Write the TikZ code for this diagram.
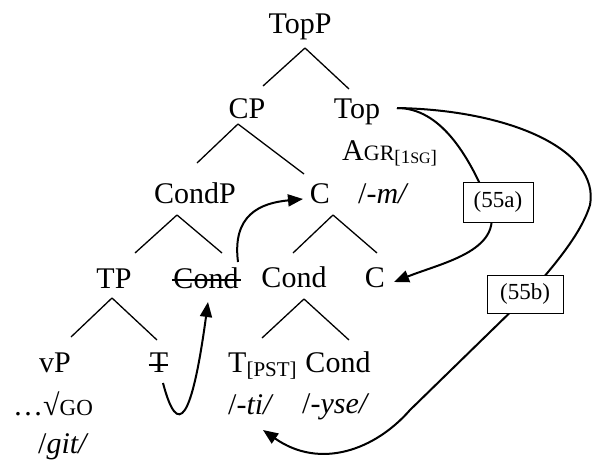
\documentclass[tikz,border=0pt]{standalone}
\usepackage{fontspec}
\setmainfont{Liberation Serif}
\usetikzlibrary{arrows.meta,calc}
\begin{document}
\begin{tikzpicture}[x=1pt,y=-1pt,
  lab/.style={inner sep=0pt, anchor=base, font=\fontsize{30}{30}\selectfont},
  branch/.style={line width=1.3pt},
  mv/.style={line width=2pt,-{Triangle[length=15pt,width=12pt]}},
  strike/.style={line width=1.5pt},
  tag/.style={draw, line width=0.9pt, fill=white, inner sep=0pt, font=\fontsize{23}{23}\selectfont}]
\path[use as bounding box] (0,0) rectangle (595,461);

% nodes
\node[lab] (TopP) at (300,33) {TopP};
\node[lab] (CP) at (247,118) {CP};
\node[lab] (Top) at (357,118) {Top};
\node[lab,anchor=base west] (Agr) at (342,160) {A{\fontsize{22}{22}\selectfont GR}\raisebox{-3pt}{\fontsize{19}{19}\selectfont[1{\fontsize{16}{16}\selectfont SG}]}};
\node[lab] (CondP) at (195,203) {CondP};
\node[lab] (C1) at (320,203) {C};
\node[lab,anchor=base west] (m) at (358,203) {/\textit{-m/}};
\node[lab] (TP) at (114,288) {TP};
\node[lab] (Condx) at (206,288) {Cond};
\node[lab] (Cond2) at (294,287) {Cond};
\node[lab] (C2) at (375,287) {C};
\node[lab] (vP) at (55,372) {vP};
\node[lab] (Tx) at (159,372) {T};
\node[lab,anchor=base west] (Tpst) at (228,372) {T\raisebox{-4pt}{\fontsize{21}{21}\selectfont[PST]}};
\node[lab] (Cond3) at (338,372) {Cond};
\node[lab,anchor=base west] (go) at (13,415) {…√{\fontsize{23}{23}\selectfont GO}};
\node[lab,anchor=base west] (ti) at (228,414) {/\textit{-ti/}};
\node[lab,anchor=base west] (yse) at (302,413) {/\textit{-yse/}};
\node[lab,anchor=base west] (git) at (38,453) {/\textit{git/}};

% strike-throughs
\draw[strike] ($(Condx.base west)+(-1,-8)$) -- ($(Condx.base east)+(2,-8)$);
\draw[strike] ($(Tx.base west)+(-1,-7)$) -- ($(Tx.base east)+(0,-7)$);

% branches
\draw[branch] ($(TopP.base)+(5,15)$) -- ($(CP.base)+(16,-32)$);
\draw[branch] ($(TopP.base)+(5,15)$) -- ($(Top.base)+(-8,-29)$);
\draw[branch] ($(CP.base)+(-9,6)$) -- ($(CondP.base)+(2,-40)$);
\draw[branch] ($(CP.base)+(-9,6)$) -- ($(C1.base)+(-16,-29)$);
\draw[branch] ($(CondP.base)+(-18,12)$) -- ($(TP.base)+(21,-35)$);
\draw[branch] ($(CondP.base)+(-18,12)$) -- ($(Condx.base)+(16,-35)$);
\draw[branch] ($(C1.base)+(13,12)$) -- ($(Cond2.base)+(-1,-34)$);
\draw[branch] ($(C1.base)+(13,12)$) -- ($(C2.base)+(2,-34)$);
\draw[branch] ($(TP.base)+(-2,10)$) -- ($(vP.base)+(16,-35)$);
\draw[branch] ($(TP.base)+(-2,10)$) -- ($(Tx.base)+(-2,-32)$);
\draw[branch] ($(Cond2.base)+(10,12)$) -- ($(Tpst.base west)+(34,-34)$);
\draw[branch] ($(Cond2.base)+(10,12)$) -- ($(Cond3.base)+(11,-32)$);

% movement arrows
\draw[mv] ($(Tx.base)+(4,11)$) .. controls +(15,57) and +(-16,118) .. ($(Condx.base)+(2,14)$);
\draw[mv] ($(Condx.base)+(32,-26)$) .. controls +(-6,-47) and +(-43,4) .. ($(C1.base)+(-17,-4)$);

\coordinate (p55a) at (498,202);
\coordinate (p55b) at (525,294);
\draw[mv] ($(Top.base)+(40,-10)$) .. controls +(43,0) and +(-20,-48) .. ($(p55a)+(-10,0)$)
  .. controls +(20,48) and +(50,-20) .. ($(C2.base)+(19,-5)$);
\draw[mv] ($(Top.base)+(40,-10)$) .. controls +(113,2) and +(10,-55) .. (590,205)
  .. controls +(-7,23) and +(35,-39) .. ($(p55b)+(4,0)$)
  -- (410,410)
  .. controls +(-35,40) and +(57,40) .. ($(ti.base west)+(35,16)$);

\node[tag, minimum width=70pt, minimum height=40pt] (b55a) at (p55a) {(55a)};
\node[tag, minimum width=76pt, minimum height=38pt] (b55b) at (p55b) {(55b)};
\end{tikzpicture}
\end{document}
